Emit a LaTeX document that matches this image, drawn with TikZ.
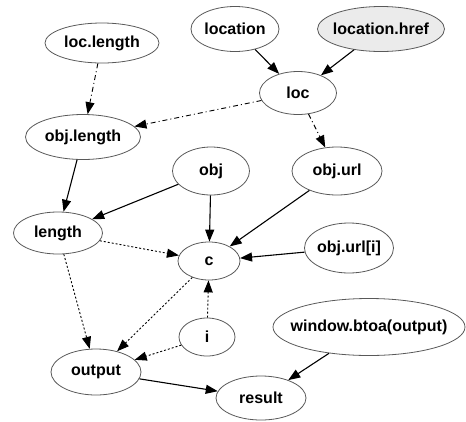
\documentclass[tikz,border=0pt]{standalone}
\usepackage{fontspec}
\setmainfont{Liberation Sans}
\usetikzlibrary{shapes.geometric,arrows.meta}
\newcommand\nlab[1]{\makebox[0pt]{#1}}
\begin{document}
\begin{tikzpicture}[x=1pt,y=-1pt,
  nd/.style={ellipse,draw=black!65,line width=0.8pt,inner sep=0pt,font=\fontsize{16}{18}\selectfont\bfseries},
  ed/.style={-{Triangle[length=12pt,width=9pt]},line width=1.1pt},
  dd/.style={ed,line width=0.9pt,dash pattern=on 5pt off 3pt on 1pt off 3pt},
  dt/.style={ed,line width=0.9pt,dash pattern=on 2pt off 2pt}]
\useasboundingbox (0,0) rectangle (466,421);
\node[nd,minimum width=114pt,minimum height=40pt] (loclen) at (102,43) {\nlab{loc.length}};
\node[nd,minimum width=88pt,minimum height=45pt] (location) at (235,29) {\nlab{location}};
\node[nd,fill=black!8,minimum width=127pt,minimum height=45pt] (href) at (381,29) {\nlab{location.href}};
\node[nd,minimum width=77pt,minimum height=43pt] (loc) at (298,93) {\nlab{loc}};
\node[nd,minimum width=115pt,minimum height=45pt] (objlen) at (83,137) {\nlab{obj.length}};
\node[nd,minimum width=77pt,minimum height=48pt] (obj) at (211,171) {\nlab{obj}};
\node[nd,minimum width=90pt,minimum height=48pt] (objurl) at (337,171) {\nlab{obj.url}};
\node[nd,minimum width=89pt,minimum height=42pt] (length) at (58,233) {\nlab{length}};
\node[nd,minimum width=62pt,minimum height=38pt] (c) at (209,261) {\nlab{c}};
\node[nd,minimum width=89pt,minimum height=50pt] (urli) at (349,248) {\nlab{obj.url[i]}};
\node[nd,minimum width=192pt,minimum height=57pt] (btoa) at (369,327) {\nlab{window.btoa(output)}};
\node[nd,minimum width=56pt,minimum height=38pt] (i) at (207,337) {\nlab{i}};
\node[nd,minimum width=90pt,minimum height=46pt] (output) at (96,372) {\nlab{output}};
\node[nd,minimum width=90pt,minimum height=44pt] (result) at (261,398) {\nlab{result}};
\draw[ed] (location) -- (loc);
\draw[ed] (href) -- (loc);
\draw[dd] (loclen) -- (objlen);
\draw[dd] (loc) -- (objlen);
\draw[dd] (loc) -- (objurl);
\draw[ed] (objlen) -- (length);
\draw[ed] (obj) -- (length);
\draw[ed] (obj) -- (c);
\draw[ed] (objurl) -- (c);
\draw[ed] (urli) -- (c);
\draw[dt] (length) -- (c);
\draw[dt] (length) -- (output);
\draw[dt] (c) -- (output);
\draw[dt] (i) -- (c);
\draw[dt] (i) -- (output);
\draw[ed] (output) -- (result);
\draw[ed] (btoa) -- (result);
\end{tikzpicture}
\end{document}
